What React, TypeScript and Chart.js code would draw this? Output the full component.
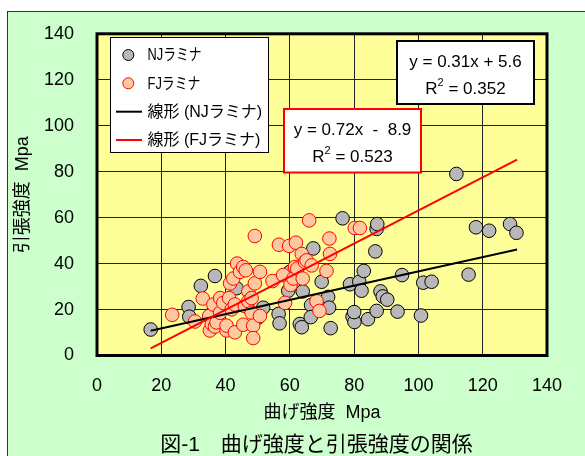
import { useEffect, useRef } from "react";
import { Chart, registerables } from "chart.js";

Chart.register(...registerables);

const FONT = '"Liberation Sans", Arial, "Noto Sans CJK JP", sans-serif';

// NJラミナ : 曲げ強度 (x) / 引張強度 (y)
const njBending = [
  16.7, 28.5, 28.7, 32.3, 36.7, 35.5, 43.4, 50.1, 51.7, 56.5, 56.8, 59.5, 60.0,
  63.1, 63.7, 64.0, 66.6, 66.5, 67.3, 69.9, 71.9, 72.2, 72.7, 76.4, 78.7, 79.5,
  80.1, 80.0, 81.6, 82.3, 83.0, 84.3, 86.6, 87.0, 87.2, 87.0, 88.2, 88.9, 90.3,
  93.5, 94.9, 100.8, 101.5, 104.1, 111.8, 115.6, 117.9, 122.0, 128.5, 130.5,
];
const njTensile = [
  11.3, 21.1, 16.9, 30.3, 34.6, 18.0, 29.3, 16.5, 20.8, 18.1, 14.0, 28.2, 36.4,
  13.7, 12.3, 27.9, 21.9, 16.7, 46.6, 32.1, 25.5, 20.8, 11.9, 59.7, 31.0, 16.9,
  14.6, 18.9, 32.1, 28.2, 36.8, 15.8, 45.3, 55.1, 57.2, 19.4, 27.9, 25.7, 24.3,
  19.1, 35.0, 17.4, 31.7, 32.1, 79.0, 35.2, 55.8, 54.3, 57.2, 53.4,
];

// FJラミナ
const fjBending = [
  23.4, 30.5, 32.9, 34.9, 35.1, 35.7, 36.2, 36.7, 37.2, 38.3, 38.3, 39.3, 40.3,
  40.3, 41.1, 41.4, 41.9, 42.4, 42.9, 42.9, 43.6, 44.5, 45.5, 45.5, 46.0, 46.3,
  47.1, 47.1, 48.1, 48.1, 48.6, 48.6, 49.1, 49.1, 50.7, 50.7, 54.6, 56.6, 57.9,
  58.5, 59.8, 60.2, 61.1, 61.6, 61.9, 62.3, 63.7, 64.0, 64.7, 65.2, 66.0, 66.8,
  68.3, 69.2, 71.4, 72.3, 72.5, 80.2, 81.8,
];
const fjTensile = [
  17.7, 14.8, 24.8, 17.2, 10.9, 13.7, 22.2, 12.6, 14.4, 25.0, 18.6, 22.9, 10.9,
  13.0, 25.0, 31.4, 20.1, 33.5, 22.2, 10.1, 40.0, 36.4, 38.5, 13.4, 21.5, 37.1,
  27.9, 23.6, 25.0, 18.6, 13.0, 7.6, 52.0, 31.4, 36.4, 17.2, 32.4, 48.2, 35.0,
  22.9, 47.7, 30.7, 33.5, 38.5, 49.1, 37.8, 44.2, 33.5, 40.7, 41.4, 58.8, 39.2,
  23.6, 19.4, 36.8, 50.9, 44.2, 55.5, 55.5,
];

// 線形近似の両端
const trendX = [16.7, 130.7];
const njTrendY = [10.8, 46.1];
const fjTrendY = [3.1, 85.2];

const legendLabels = ["NJラミナ", "FJラミナ", "線形 (NJラミナ)", "線形 (FJラミナ)"];
const njEquation = ["y = 0.31x + 5.6", "0.352"];
const fjEquation = ["y = 0.72x  -  8.9", "0.523"];
const caption = "図-1　曲げ強度と引張強度の関係";

const NJ_FILL = "#b8b8b8";
const FJ_FILL = "#ffc99f";
const RED = "#ff0000";

const toPoints = (xs: number[], ys: number[]) =>
  xs.map((x, i) => ({ x, y: ys[i] }));

const drawR2 = (ctx: any, value: string, cx: number, cy: number) => {
  const big = `17px ${FONT}`;
  const small = `11px ${FONT}`;
  ctx.font = big;
  const wR = ctx.measureText("R").width;
  const rest = " = " + value;
  const wRest = ctx.measureText(rest).width;
  ctx.font = small;
  const w2 = ctx.measureText("2").width;
  let x = cx - (wR + w2 + wRest) / 2;
  ctx.textAlign = "left";
  ctx.textBaseline = "middle";
  ctx.font = big;
  ctx.fillText("R", x, cy);
  x += wR;
  ctx.font = small;
  ctx.fillText("2", x, cy - 7);
  x += w2;
  ctx.font = big;
  ctx.fillText(rest, x, cy);
};

const framePlugin = {
  id: "frame",
  beforeDraw: (chart: any) => {
    const { ctx, width, height, chartArea } = chart;
    const { left, top, right, bottom } = chartArea;
    ctx.save();
    ctx.fillStyle = "#ffffff";
    ctx.fillRect(0, 0, width, height);
    ctx.fillStyle = "#ccffcc";
    ctx.fillRect(7, 11, width, height);
    ctx.strokeStyle = "#333333";
    ctx.lineWidth = 1;
    ctx.strokeRect(7.5, 11.5, width + 20, height + 20);
    ctx.fillStyle = "#ffff99";
    ctx.fillRect(left, top, right - left, bottom - top);
    ctx.restore();
  },
  beforeDatasetsDraw: (chart: any) => {
    const { ctx, chartArea } = chart;
    const { left, top, right, bottom } = chartArea;
    ctx.save();
    ctx.strokeStyle = "#000000";
    ctx.lineWidth = 3;
    ctx.strokeRect(left, top, right - left, bottom - top);
    ctx.restore();
  },
  afterDraw: (chart: any) => {
    const { ctx } = chart;
    ctx.save();

    // legend
    ctx.fillStyle = "#ffffff";
    ctx.fillRect(110, 37.5, 158, 115);
    ctx.strokeStyle = "#000000";
    ctx.lineWidth = 1;
    ctx.strokeRect(110.5, 37.5, 158, 115);
    const rows = [55, 83.3, 111.7, 140];
    const maxW = [54, 53, 116, 114];
    ctx.lineWidth = 1;
    ctx.beginPath();
    ctx.arc(128.3, rows[0], 5.5, 0, Math.PI * 2);
    ctx.fillStyle = NJ_FILL;
    ctx.fill();
    ctx.strokeStyle = "#000000";
    ctx.stroke();
    ctx.beginPath();
    ctx.arc(128.3, rows[1], 5.5, 0, Math.PI * 2);
    ctx.fillStyle = FJ_FILL;
    ctx.fill();
    ctx.strokeStyle = RED;
    ctx.stroke();
    ctx.lineWidth = 2;
    ctx.strokeStyle = "#000000";
    ctx.beginPath();
    ctx.moveTo(116, rows[2]);
    ctx.lineTo(142, rows[2]);
    ctx.stroke();
    ctx.strokeStyle = RED;
    ctx.beginPath();
    ctx.moveTo(116, rows[3]);
    ctx.lineTo(142, rows[3]);
    ctx.stroke();
    ctx.fillStyle = "#000000";
    ctx.font = `16px ${FONT}`;
    ctx.textAlign = "left";
    ctx.textBaseline = "middle";
    legendLabels.forEach((label, i) => {
      ctx.fillText(label, 147.5, rows[i] + 1, maxW[i]);
    });

    // NJ equation box
    ctx.fillStyle = "#ffffff";
    ctx.fillRect(397, 41, 137, 63);
    ctx.strokeStyle = "#000000";
    ctx.lineWidth = 2;
    ctx.strokeRect(397, 41, 137, 63);
    ctx.fillStyle = "#000000";
    ctx.font = `17px ${FONT}`;
    ctx.textAlign = "center";
    ctx.textBaseline = "middle";
    ctx.fillText(njEquation[0], 465.5, 62);
    drawR2(ctx, njEquation[1], 465.5, 89.5);

    // FJ equation box
    ctx.fillStyle = "#ffffff";
    ctx.fillRect(284, 109, 137, 63.5);
    ctx.strokeStyle = RED;
    ctx.lineWidth = 2;
    ctx.strokeRect(284, 109, 137, 63.5);
    ctx.fillStyle = "#000000";
    ctx.font = `17px ${FONT}`;
    ctx.textAlign = "center";
    ctx.fillText(fjEquation[0], 352.5, 130);
    drawR2(ctx, fjEquation[1], 352.5, 157.5);

    // caption
    ctx.font = `21px ${FONT}`;
    ctx.textAlign = "center";
    ctx.textBaseline = "middle";
    ctx.fillText(caption, 316.5, 445);
    ctx.restore();
  },
};

const ScatterChart = () => {
  const canvasRef = useRef<HTMLCanvasElement>(null);

  useEffect(() => {
    const chart = new Chart(canvasRef.current as HTMLCanvasElement, {
      type: "scatter",
      data: {
        datasets: [
          {
            label: legendLabels[0],
            data: toPoints(njBending, njTensile),
            backgroundColor: NJ_FILL,
            borderColor: "#000000",
            borderWidth: 1,
            pointRadius: 6.8,
            order: 4,
          },
          {
            label: legendLabels[1],
            data: toPoints(fjBending, fjTensile),
            backgroundColor: FJ_FILL,
            borderColor: RED,
            borderWidth: 1,
            pointRadius: 6.8,
            order: 3,
          },
          {
            type: "line",
            label: legendLabels[2],
            data: toPoints(trendX, njTrendY),
            borderColor: "#000000",
            borderWidth: 2,
            pointRadius: 0,
            showLine: true,
            fill: false,
            order: 2,
          },
          {
            type: "line",
            label: legendLabels[3],
            data: toPoints(trendX, fjTrendY),
            borderColor: RED,
            borderWidth: 2,
            pointRadius: 0,
            showLine: true,
            fill: false,
            order: 1,
          },
        ] as any,
      },
      options: {
        responsive: false,
        animation: false,
        layout: { padding: { left: 0, top: 26.5, right: 38, bottom: 0 } },
        plugins: {
          legend: { display: false },
          tooltip: { enabled: false },
        },
        scales: {
          x: {
            type: "linear",
            min: 0,
            max: 140,
            afterFit: (scale: any) => {
              scale.height = 100.5;
            },
            ticks: {
              stepSize: 20,
              color: "#000000",
              padding: 20,
              font: { size: 18, family: FONT },
            },
            grid: { color: "#222222", lineWidth: 1, drawTicks: false },
            border: { display: false },
            title: {
              display: true,
              text: "曲げ強度  Mpa",
              color: "#000000",
              font: { size: 18, family: FONT },
              padding: { top: 0, bottom: 32.5 },
            },
          },
          y: {
            type: "linear",
            min: 0,
            max: 140,
            afterFit: (scale: any) => {
              scale.width = 97;
            },
            ticks: {
              stepSize: 20,
              color: "#000000",
              padding: 23,
              font: { size: 18, family: FONT },
            },
            grid: { color: "#222222", lineWidth: 1, drawTicks: false },
            border: { display: false },
            title: {
              display: true,
              text: "引張強度  Mpa",
              color: "#000000",
              font: { size: 18, family: FONT },
              padding: { top: 12, bottom: 0 },
            },
          },
        },
      } as any,
      plugins: [framePlugin],
    });

    return () => {
      chart.destroy();
    };
  }, []);

  return (
    <div style={{ position: "absolute", left: 0, top: 0, width: 585, height: 456 }}>
      <canvas ref={canvasRef} width={585} height={456} style={{ display: "block" }} />
    </div>
  );
};

export default function App() {
  return <ScatterChart />;
}
